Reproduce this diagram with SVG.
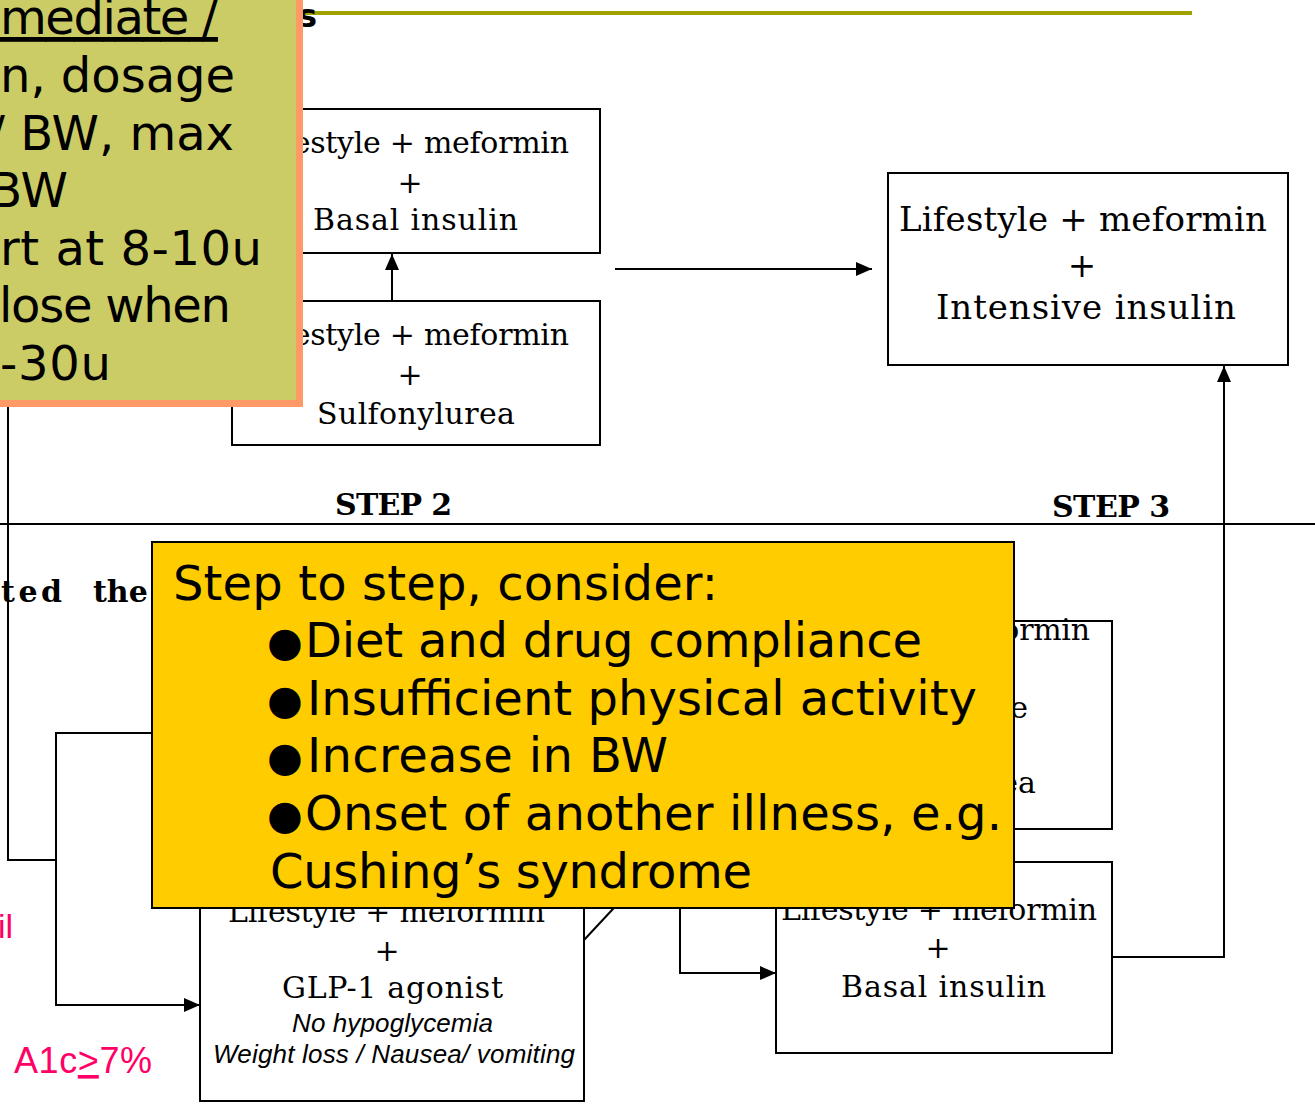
<svg xmlns="http://www.w3.org/2000/svg" width="1315" height="1104" viewBox="0 0 1315 1104">
<style>
.bx{fill:#fff;stroke:#000;stroke-width:2}
.ln{fill:none;stroke:#000;stroke-width:2}
.sf{font-family:"DejaVu Serif","Liberation Serif",serif;fill:#000}
.s30{font-size:30px}
.s34{font-size:34px}
.it{font-family:"Liberation Sans",Arial,sans-serif;font-style:italic;font-size:26px;fill:#000}
.bd{font-family:"DejaVu Serif","Liberation Serif",serif;font-weight:bold;font-size:30px;fill:#000}
.vs{font-family:"DejaVu Sans",Verdana,sans-serif;font-size:48px;fill:#000}
.bu{font-family:"DejaVu Sans",sans-serif;font-size:41px}
.pk{font-family:"Liberation Sans",Arial,sans-serif;fill:#ff0066}
</style>
<defs>
<marker id="ah" markerUnits="userSpaceOnUse" markerWidth="16" markerHeight="14" refX="16" refY="7" orient="auto">
<path d="M0,0 L16,7 L0,14 z" fill="#000"/>
</marker>
</defs>
<rect width="1315" height="1104" fill="#fff"/>
<g id="title">
<line x1="290" y1="13" x2="1192" y2="13" stroke="#a0a000" stroke-width="4"/>
<text x="317" y="27" text-anchor="end" style="font-family:'DejaVu Sans',Verdana,sans-serif;font-weight:bold;font-size:32px">s</text>
</g>
<g id="connectors">
<line class="ln" x1="392" y1="301" x2="392" y2="254" marker-end="url(#ah)"/>
<line class="ln" x1="615" y1="269" x2="872" y2="269" marker-end="url(#ah)"/>
<polyline class="ln" points="1112,957 1224,957 1224,366" marker-end="url(#ah)"/>
<polyline class="ln" points="8,400 8,860 56,860"/>
<polyline class="ln" points="200,733 56,733 56,1005 200,1005" marker-end="url(#ah)"/>
<line class="ln" x1="584" y1="940" x2="640" y2="880"/>
<polyline class="ln" points="680,880 680,973 776,973" marker-end="url(#ah)"/>
<line x1="0" y1="524" x2="1315" y2="524" stroke="#000" stroke-width="2"/>
</g>
<g id="node-basal-step2">
<rect class="bx" x="232" y="109" width="368" height="144"/>
<text class="sf s30" x="253" y="153" textLength="316">Lifestyle + meformin</text>
<text class="sf s30" x="410" y="193" text-anchor="middle">+</text>
<text class="sf s30" x="313" y="230" textLength="205">Basal insulin</text>
</g>
<g id="node-su-step2">
<rect class="bx" x="232" y="301" width="368" height="144"/>
<text class="sf s30" x="253" y="345" textLength="316">Lifestyle + meformin</text>
<text class="sf s30" x="410" y="385" text-anchor="middle">+</text>
<text class="sf s30" x="317" y="424" textLength="198">Sulfonylurea</text>
</g>
<g id="node-intensive">
<rect class="bx" x="888" y="173" width="400" height="192"/>
<text class="sf s34" x="899" y="231" textLength="368">Lifestyle + meformin</text>
<text class="sf s34" x="1082" y="277" text-anchor="middle">+</text>
<text class="sf s34" x="936" y="319" textLength="300">Intensive insulin</text>
</g>
<g id="node-mid-right">
<rect class="bx" x="760" y="621" width="352" height="208"/>
<text class="sf s30" x="1090" y="640" text-anchor="end" textLength="316">Lifestyle + meformin</text>
<text class="sf s30" x="1028" y="718" text-anchor="end">e</text>
<text class="sf s30" x="1036" y="793" text-anchor="end">ea</text>
</g>
<g id="node-glp1">
<rect class="bx" x="200" y="870" width="384" height="231"/>
<text class="sf s30" x="228" y="922" textLength="317">Lifestyle + meformin</text>
<text class="sf s30" x="387" y="961" text-anchor="middle">+</text>
<text class="sf s30" x="282" y="998" textLength="221">GLP-1 agonist</text>
<text class="it" x="292" y="1032" textLength="201">No hypoglycemia</text>
<text class="it" x="213" y="1063" textLength="362">Weight loss / Nausea/ vomiting</text>
</g>
<g id="node-basal-step3">
<rect class="bx" x="776" y="862" width="336" height="191"/>
<text class="sf s30" x="781" y="920" textLength="316">Lifestyle + meformin</text>
<text class="sf s30" x="938" y="958" text-anchor="middle">+</text>
<text class="sf s30" x="841" y="997" textLength="205">Basal insulin</text>
</g>
<g id="labels">
<text class="bd" x="335" y="515" textLength="117">STEP 2</text>
<text class="bd" x="1052" y="517" textLength="118">STEP 3</text>
<text class="bd" x="1" y="602" textLength="61">ted</text>
<text class="bd" x="93" y="602">the</text>
<text class="pk" x="-2" y="938" style="font-size:34px">il</text>
<text class="pk" x="14" y="1073" style="font-size:36px" textLength="138">A1c<tspan text-decoration="underline">&gt;</tspan>7%</text>
</g>
<g id="note-green">
<rect x="-10" y="-10" width="313" height="417" fill="#ff9966"/>
<rect x="-10" y="-10" width="306" height="410" fill="#cccc66"/>
<text class="vs" x="0" y="34" textLength="218" text-decoration="underline">mediate /</text>
<text class="vs" x="0" y="92" textLength="235">n, dosage</text>
<text class="vs" x="234" y="150" text-anchor="end">/ BW, max</text>
<text class="vs" x="68" y="207" text-anchor="end">BW</text>
<text class="vs" x="0" y="265" textLength="262">rt at 8-10u</text>
<text class="vs" x="-1" y="322" textLength="232">lose when</text>
<text class="vs" x="0" y="380" textLength="111">-30u</text>
</g>
<g id="note-yellow">
<rect x="152" y="542" width="862" height="366" fill="#ffcc00" stroke="#000" stroke-width="2"/>
<text class="vs" x="173" y="600" textLength="545">Step to step, consider:</text>
<text class="vs" y="657"><tspan class="bu" x="267" dy="-1">●</tspan><tspan x="305" dy="1" textLength="617">Diet and drug compliance</tspan></text>
<text class="vs" y="715"><tspan class="bu" x="267" dy="-1">●</tspan><tspan x="307" dy="1" textLength="670">Insufficient physical activity</tspan></text>
<text class="vs" y="772"><tspan class="bu" x="267" dy="-1">●</tspan><tspan x="307" dy="1" textLength="361">Increase in BW</tspan></text>
<text class="vs" y="830"><tspan class="bu" x="267" dy="-1">●</tspan><tspan x="305" dy="1" textLength="697">Onset of another illness, e.g.</tspan></text>
<text class="vs" x="270" y="888" textLength="482">Cushing’s syndrome</text>
</g>
</svg>
